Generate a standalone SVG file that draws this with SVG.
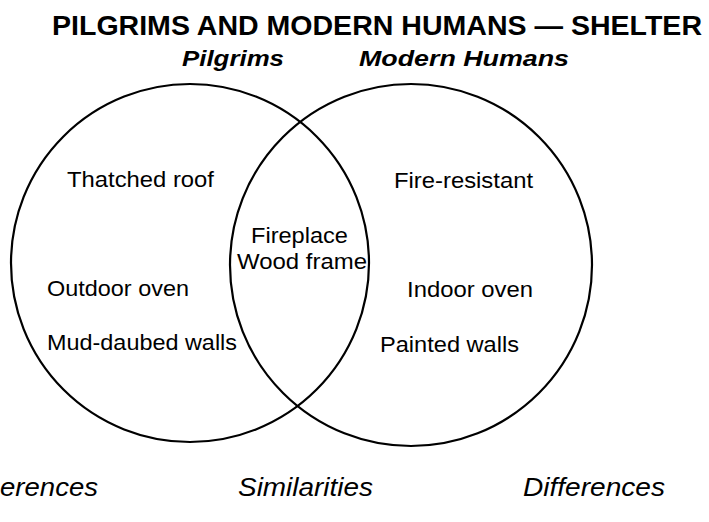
<svg xmlns="http://www.w3.org/2000/svg" width="709" height="522" viewBox="0 0 709 522">
<style>
.t{font-family:"Liberation Sans",Arial,sans-serif;fill:#000}
.title{font-size:27px;font-weight:bold}
.head{font-size:22px;font-weight:bold;font-style:italic}
.body{font-size:22.5px}
.foot{font-size:25px;font-style:italic}
.c{fill:none;stroke:#000;stroke-width:2.2}
</style>
<rect width="709" height="522" fill="#fff"/>
<g id="title"><text class="t title" x="52" y="35" textLength="650" lengthAdjust="spacingAndGlyphs">PILGRIMS AND MODERN HUMANS — SHELTER</text></g>
<g id="pilgrims">
<circle class="c" cx="190" cy="263" r="179"/>
<text class="t head" x="182" y="66" textLength="102" lengthAdjust="spacingAndGlyphs">Pilgrims</text>
<text class="t body" x="67" y="187" textLength="147" lengthAdjust="spacingAndGlyphs">Thatched roof</text>
<text class="t body" x="47" y="296" textLength="142" lengthAdjust="spacingAndGlyphs">Outdoor oven</text>
<text class="t body" x="47" y="350" textLength="190" lengthAdjust="spacingAndGlyphs">Mud-daubed walls</text>
</g>
<g id="modern">
<circle class="c" cx="411" cy="265" r="181"/>
<text class="t head" x="359" y="66" textLength="210" lengthAdjust="spacingAndGlyphs">Modern Humans</text>
<text class="t body" x="394" y="188" textLength="139" lengthAdjust="spacingAndGlyphs">Fire-resistant</text>
<text class="t body" x="407" y="297" textLength="126" lengthAdjust="spacingAndGlyphs">Indoor oven</text>
<text class="t body" x="380" y="352" textLength="139" lengthAdjust="spacingAndGlyphs">Painted walls</text>
</g>
<g id="overlap">
<text class="t body" x="251" y="243" textLength="97" lengthAdjust="spacingAndGlyphs">Fireplace</text>
<text class="t body" x="237" y="269" textLength="130" lengthAdjust="spacingAndGlyphs">Wood frame</text>
</g>
<g id="labels">
<text class="t foot" x="0" y="496" textLength="98" lengthAdjust="spacingAndGlyphs">erences</text>
<text class="t foot" x="238" y="496" textLength="135" lengthAdjust="spacingAndGlyphs">Similarities</text>
<text class="t foot" x="523" y="496" textLength="142" lengthAdjust="spacingAndGlyphs">Differences</text>
</g>
<g id="connectors"></g>
</svg>
